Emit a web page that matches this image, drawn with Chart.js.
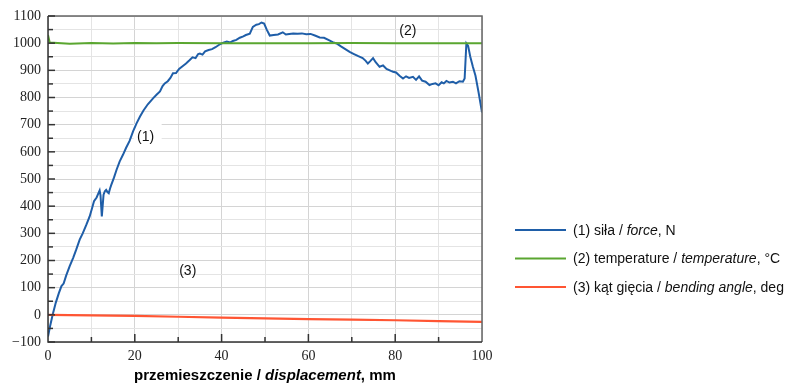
<!DOCTYPE html>
<html>
<head>
<meta charset="utf-8">
<script src="https://cdn.jsdelivr.net/npm/chart.js@4"></script>
<style>
  html, body { margin: 0; padding: 0; background: #fff; }
  #wrap { width: 811px; height: 385px; }
</style>
</head>
<body>
<div id="wrap"><canvas id="chart" width="811" height="385"></canvas></div>
<script>
// przemieszczenie (mm) / siła (N)
const forceX = [0, 0.5, 1.1, 1.8, 2.5, 3.1, 3.6, 4.2, 5.0, 5.8, 6.5, 7.3, 8.0, 8.8, 9.6, 10.2, 10.6, 11.2, 11.9, 12.1,
  12.4, 12.8, 13.1, 13.4, 13.7, 14.0, 14.3, 14.6, 15.2, 15.8, 16.5, 17.3, 18.0, 18.8, 19.6, 20.4, 21.2, 22.0, 23.0, 24.2,
  25.0, 25.8, 26.4, 26.9, 27.6, 28.2, 28.8, 29.5, 30.2, 31.0, 31.8, 32.6, 33.3, 34.0, 34.6, 35.0, 35.6, 36.2, 37.0, 37.8,
  38.6, 39.6, 40.4, 41.2, 42.0, 42.6, 43.4, 44.2, 45.0, 45.6, 46.5, 47.2, 48.0, 48.6, 49.2, 49.8, 50.4, 51.1, 52.0, 53.0,
  54.1, 54.8, 55.6, 56.5, 57.5, 58.5, 59.5, 60.5, 61.5, 62.6, 63.6, 64.6, 65.6, 66.5, 67.5, 68.5, 69.5, 70.5, 71.5, 72.5,
  73.2, 73.7, 74.2, 74.9, 75.5, 76.4, 77.2, 78.0, 79.0, 79.5, 80.2, 81.0, 81.8, 82.5, 83.2, 84.1, 84.8, 85.5, 86.2, 87.0,
  87.9, 88.6, 89.3, 90.0, 90.7, 91.2, 91.8, 92.5, 93.3, 94.0, 94.8, 95.6, 96.0, 96.4, 96.8, 97.3, 97.9, 98.5, 99.2, 100];
const forceY = [-80, -40, 2, 45, 80, 106, 115, 145, 179, 210, 240, 277, 300, 330, 362, 395, 418, 432, 458, 440,
  362, 442, 455, 460, 452, 448, 465, 479, 505, 534, 564, 590, 615, 640, 675, 705, 730, 752, 775, 797,
  810, 822, 842, 852, 860, 872, 889, 890, 905, 915, 925, 937, 948, 945, 960, 962, 958, 970, 975, 978,
  985, 996, 1002, 1006, 1003, 1008, 1012, 1020, 1025, 1030, 1035, 1060, 1068, 1070, 1076, 1072, 1050, 1028, 1030, 1032,
  1040, 1032, 1034, 1036, 1035, 1036, 1033, 1034, 1028, 1021, 1020, 1012, 1004, 999, 988, 978, 968, 960, 952, 945,
  935, 925, 933, 945, 930, 913, 918, 905, 898, 895, 892, 880, 870, 878, 872, 876, 865, 878, 862, 858,
  846, 850, 852, 845, 856, 852, 861, 855, 858, 852, 860, 858, 870, 999, 990, 950, 913, 880, 820, 745];

// temperatura (°C)
const tempX = [0, 0.4, 5, 10, 15, 20, 25, 30, 40, 50, 60, 70, 80, 90, 100];
const tempY = [1030, 1002, 998, 1001, 999, 1001, 1000, 1001, 1000, 1000, 1000, 1001, 1000, 1000, 1000];

// kąt gięcia (deg)
const angleX = [0, 10, 20, 30, 40, 50, 60, 70, 80, 90, 100];
const angleY = [0, -2, -4, -7, -10, -13, -16, -18, -20, -23, -26];

const xTicks = [0, 20, 40, 60, 80, 100];
const yTicks = [-100, 0, 100, 200, 300, 400, 500, 600, 700, 800, 900, 1000, 1100];

const BLUE = '#1f5ea8';
const GREEN = '#5aa630';
const RED = '#ff5533';

const SANS = '"Liberation Sans", Arial, sans-serif';
const SERIF = '"Liberation Serif", "Times New Roman", serif';

const toPts = (xs, ys) => xs.map((x, i) => ({ x: x, y: ys[i] }));

// etykiety krzywych: tekst, x, y, białe tło
const curveLabels = [['(1)', 22.5, 655, true], ['(2)', 82.9, 1044, false], ['(3)', 32.2, 159, false]];

// tekst z kilkoma krojami pisma
function drawRich(ctx, parts, x, y, align) {
    let total = 0;
    parts.forEach(p => { ctx.font = p.font; total += ctx.measureText(p.text).width; });
    let cx = align === 'center' ? x - total / 2 : x;
    ctx.textAlign = 'left';
    ctx.textBaseline = 'middle';
    parts.forEach(p => {
        ctx.font = p.font;
        ctx.fillText(p.text, cx, y);
        cx += ctx.measureText(p.text).width;
    });
}

const decor = {
    id: 'decor',
    beforeDatasetsDraw(chart) {
        // białe tło pod etykietą (1), pod krzywymi
        const ctx = chart.ctx;
        const xs = chart.scales.x, ys = chart.scales.y;
        ctx.save();
        ctx.fillStyle = '#fff';
        curveLabels.forEach(([t, x, y, box]) => {
            if (!box) return;
            const px = xs.getPixelForValue(x), py = ys.getPixelForValue(y);
            ctx.fillRect(px - 12, py - 13, 28, 27);
        });
        ctx.restore();
    },
    afterDraw(chart) {
        const ctx = chart.ctx;
        const a = chart.chartArea;
        const xs = chart.scales.x, ys = chart.scales.y;
        ctx.save();

        // ramka
        ctx.strokeStyle = '#666';
        ctx.lineWidth = 1.5;
        ctx.beginPath();
        ctx.moveTo(a.left, a.top); ctx.lineTo(a.right, a.top); ctx.lineTo(a.right, a.bottom);
        ctx.stroke();
        ctx.strokeStyle = '#333';
        ctx.beginPath();
        ctx.moveTo(a.left, a.top); ctx.lineTo(a.left, a.bottom); ctx.lineTo(a.right, a.bottom);
        ctx.stroke();

        // znaczniki do wewnątrz
        ctx.lineWidth = 1.5;
        for (let v = -100; v <= 1100; v += 50) {
            const py = ys.getPixelForValue(v);
            ctx.beginPath();
            ctx.moveTo(a.left, py); ctx.lineTo(a.left + (v % 100 === 0 ? 7 : 5), py);
            ctx.stroke();
        }
        for (let v = 10; v < 100; v += 10) {
            const px = xs.getPixelForValue(v);
            ctx.beginPath();
            ctx.moveTo(px, a.bottom); ctx.lineTo(px, a.bottom - (v % 20 === 0 ? 8 : 5));
            ctx.stroke();
        }

        // etykiety krzywych
        ctx.font = '14px ' + SANS;
        ctx.textAlign = 'center';
        ctx.textBaseline = 'middle';
        ctx.fillStyle = '#111';
        curveLabels.forEach(([t, x, y]) => {
            ctx.fillText(t, xs.getPixelForValue(x), ys.getPixelForValue(y));
        });

        // tytuł osi X
        ctx.fillStyle = '#000';
        drawRich(ctx, [
            { text: 'przemieszczenie / ', font: 'bold 15px ' + SANS },
            { text: 'displacement', font: 'italic bold 15px ' + SANS },
            { text: ', mm', font: 'bold 15px ' + SANS }
        ], (a.left + a.right) / 2, 376, 'center');

        // legenda
        const legend = [
            [BLUE, [{ text: '(1) siła / ', i: false }, { text: 'force', i: true }, { text: ', N', i: false }]],
            [GREEN, [{ text: '(2) temperature / ', i: false }, { text: 'temperature', i: true }, { text: ', °C', i: false }]],
            [RED, [{ text: '(3) kąt gięcia / ', i: false }, { text: 'bending angle', i: true }, { text: ', deg', i: false }]]
        ];
        legend.forEach(([col, parts], k) => {
            const ly = 230 + k * 28.5;
            ctx.strokeStyle = col;
            ctx.lineWidth = 2;
            ctx.beginPath();
            ctx.moveTo(515, ly); ctx.lineTo(566, ly);
            ctx.stroke();
            ctx.fillStyle = '#111';
            drawRich(ctx, parts.map(p => ({ text: p.text, font: (p.i ? 'italic ' : '') + '14px ' + SANS })), 573, ly + 1, 'left');
        });

        ctx.restore();
    }
};

document.addEventListener('DOMContentLoaded', function() {
    const canvas = document.getElementById('chart');

    new Chart(canvas, {
        type: 'line',
        data: {
            datasets: [
                { data: toPts(tempX, tempY), borderColor: GREEN, borderWidth: 2, pointRadius: 0, tension: 0 },
                { data: toPts(angleX, angleY), borderColor: RED, borderWidth: 2.2, pointRadius: 0, tension: 0 },
                { data: toPts(forceX, forceY), borderColor: BLUE, borderWidth: 2, pointRadius: 0, tension: 0 }
            ]
        },
        options: {
            responsive: false,
            animation: false,
            events: [],
            layout: { padding: { top: 16, right: 329, left: 0, bottom: 0 } },
            plugins: { legend: { display: false }, tooltip: { enabled: false } },
            scales: {
                x: {
                    type: 'linear',
                    min: 0, max: 100,
                    afterFit: s => { s.height = 43; },
                    afterBuildTicks: s => { s.ticks = []; for (let v = 0; v <= 100; v += 10) s.ticks.push({ value: v }); },
                    border: { display: false },
                    grid: {
                        drawTicks: false,
                        color: c => c.tick.value % 20 === 0 ? '#d4d4d4' : '#e4e4e4',
                        lineWidth: 1
                    },
                    ticks: {
                        padding: 6,
                        maxRotation: 0,
                        autoSkip: false,
                        color: '#222',
                        font: { family: SERIF, size: 14 },
                        callback: v => xTicks.includes(v) ? String(v) : ''
                    }
                },
                y: {
                    min: -100, max: 1100,
                    afterFit: s => { s.width = 48; },
                    afterBuildTicks: s => { s.ticks = []; for (let v = -100; v <= 1100; v += 50) s.ticks.push({ value: v }); },
                    border: { display: false },
                    grid: {
                        drawTicks: false,
                        color: c => c.tick.value % 100 === 0 ? '#d4d4d4' : '#e4e4e4',
                        lineWidth: 1
                    },
                    ticks: {
                        padding: 7,
                        autoSkip: false,
                        color: '#222',
                        font: { family: SERIF, size: 14 },
                        callback: v => yTicks.includes(v) ? (v < 0 ? '\u2212' + Math.abs(v) : String(v)) : ''
                    }
                }
            }
        },
        plugins: [decor]
    });
});
</script>
</body>
</html>
